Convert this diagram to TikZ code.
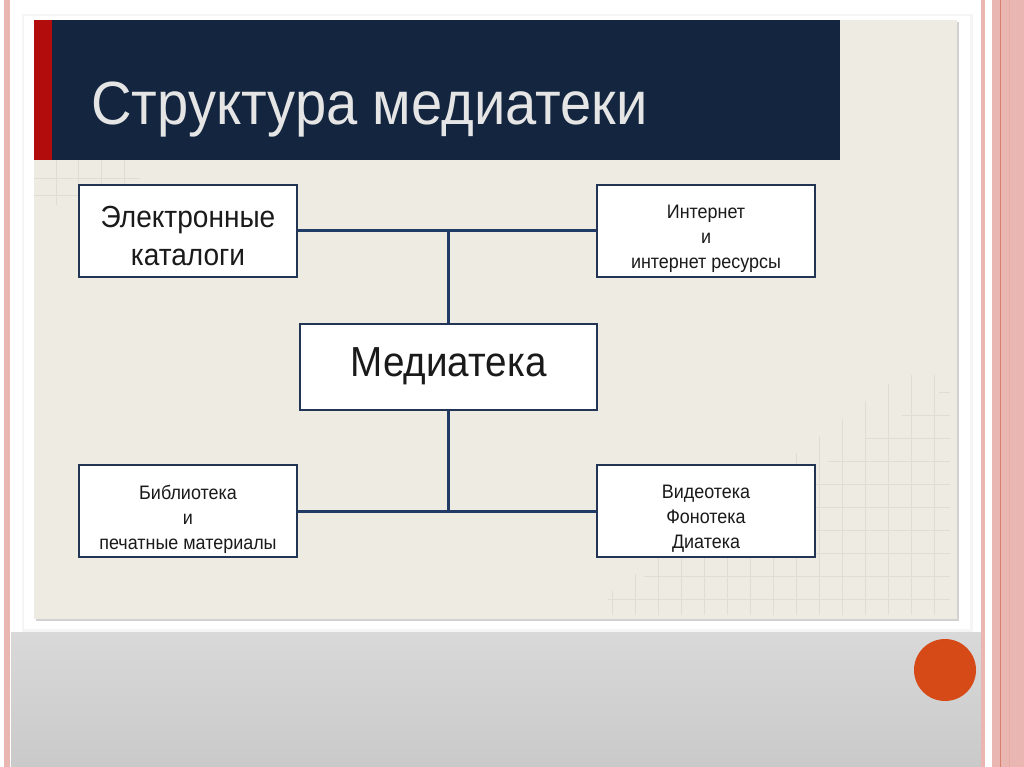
\documentclass[tikz,border=0pt]{standalone}
\usepackage{fontspec}
\setmainfont{Liberation Sans}
\newfontfamily\cond[FakeStretch=0.92]{Liberation Sans}
\definecolor{navy}{HTML}{13253F}
\definecolor{redbar}{HTML}{B30C0C}
\definecolor{beige}{HTML}{EEEBE3}
\definecolor{linkblue}{HTML}{1F3B66}
\definecolor{boxline}{HTML}{223554}
\definecolor{pinkst}{HTML}{E9B6B1}
\definecolor{pinkdk}{HTML}{D9806C}
\definecolor{orangedot}{HTML}{D64A18}
\definecolor{gridc}{HTML}{E0DDD5}
\definecolor{txt}{HTML}{1A1A1A}
\tikzset{
  orgbox/.style={draw=boxline, line width=2pt, fill=white, inner sep=0pt,
    minimum width=218pt, minimum height=92pt},
  boxtext/.style={text=txt, align=center, inner sep=0pt},
  link/.style={draw=linkblue, line width=3pt},
  gridline/.style={draw=gridc, line width=0.8pt}
}
\begin{document}
\begin{tikzpicture}[x=1pt,y=-1pt]
\useasboundingbox (0,0) rectangle (1024,767);
\fill[white] (0,0) rectangle (1024,767);
% bottom gray gradient
\shade[top color=black!15, bottom color=black!21] (11,632) rectangle (981,767);
% right stripes
\fill[pinkst] (981,0) rectangle (985,767);
\fill[pinkst] (992,0) rectangle (1024,767);
\fill[pinkdk] (999.5,0) rectangle (1001,767);
\fill[pinkst!80!pinkdk] (1009,0) rectangle (1010,767);
% left stripe
\fill[pinkst] (4,0) rectangle (10,767);
% white panel
\fill[black!4] (22,14) rectangle (973,632);
\fill[white] (24,16) rectangle (970,629);
% beige picture
\fill[black!18] (36,22) rectangle (959,621);
\fill[beige] (34,20) rectangle (957,619);
% faint grid
\foreach \x in {56,78,101,124} \draw[gridline] (\x,160) -- (\x,205);
\foreach \y in {178,195} \draw[gridline] (34,\y) -- (140,\y);
\foreach \k in {0,...,14} {
  \pgfmathsetmacro\gx{612+23*\k}
  \pgfmathsetmacro\gy{max(375,600-(\gx-600)*0.75)}
  \draw[gridline] (\gx,\gy) -- (\gx,615);
}
\foreach \k in {0,...,9} {
  \pgfmathsetmacro\hy{392+23*\k}
  \pgfmathsetmacro\hx{max(605,950-(\hy-385)*1.6)}
  \draw[gridline] (\hx,\hy) -- (950,\hy);
}
% title bar
\fill[navy] (34,20) rectangle (840,160);
\fill[redbar] (34,20) rectangle (52,160);
\node[anchor=base west, text=black!10, font=\cond\fontsize{61}{66}\selectfont, inner sep=0pt] (title) at (91,125) {Структура медиатеки};
% boxes
\node[orgbox] (ek) at (188,231) {};
\node[orgbox] (inet) at (706,231) {};
\node[orgbox, minimum width=297pt, minimum height=86pt] (med) at (448.5,367) {};
\node[orgbox] (bib) at (188,511) {};
\node[orgbox] (vid) at (706,511) {};
% box texts
\node[boxtext, font=\cond\fontsize{30.5}{38}\selectfont] (ek-t) at ([yshift=-5pt]ek.center) {Электронные\\каталоги};
\node[boxtext, font=\cond\fontsize{19.5}{25}\selectfont] (inet-t) at ([yshift=-8pt]inet.center) {Интернет\\и\\интернет ресурсы};
\node[boxtext, font=\cond\fontsize{42}{46}\selectfont] (med-t) at ([yshift=1pt]med.center) {Медиатека};
\node[boxtext, font=\cond\fontsize{19.5}{25}\selectfont] (bib-t) at ([yshift=-8pt]bib.center) {Библиотека\\и\\печатные материалы};
\node[boxtext, font=\cond\fontsize{19.5}{25}\selectfont] (vid-t) at ([yshift=-8pt]vid.center) {Видеотека\\Фонотека\\Диатека};
% connectors
\coordinate (jt) at (med.north |- ek.east);
\coordinate (jb) at (med.south |- bib.east);
\draw[link] (ek.east) -- (inet.west);
\draw[link] (jt) -- (med.north);
\draw[link] (med.south) -- (jb);
\draw[link] (bib.east) -- (vid.west);
% orange dot
\fill[orangedot] (945,670) circle (31);
\end{tikzpicture}
\end{document}
